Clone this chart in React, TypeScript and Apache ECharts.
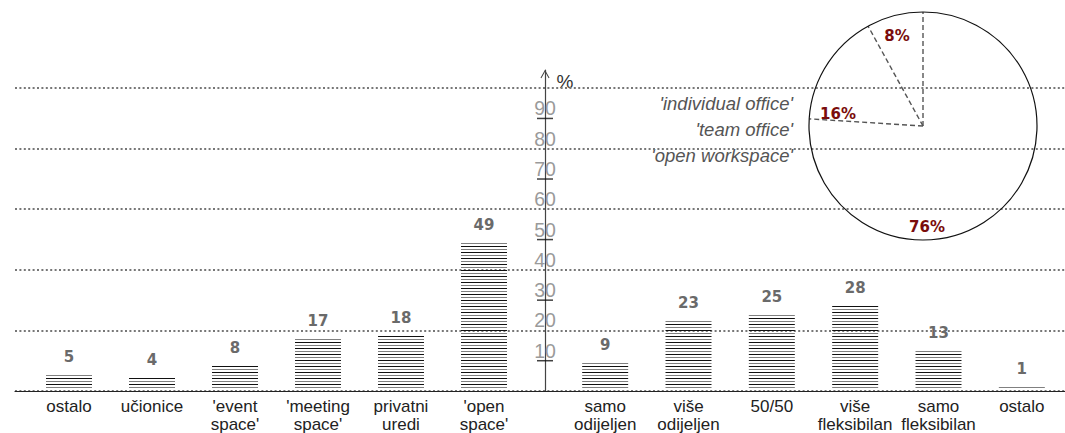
import React, { useEffect, useRef } from 'react';
import * as echarts from 'echarts';

// ---- data ----
const leftCategories = ['ostalo', 'učionice', "'event\nspace'", "'meeting\nspace'", 'privatni\nuredi', "'open\nspace'"];
const leftValues = [5, 4, 8, 17, 18, 49];
const rightCategories = ['samo\nodijeljen', 'više\nodijeljen', '50/50', 'više\nfleksibilan', 'samo\nfleksibilan', 'ostalo'];
const rightValues = [9, 23, 25, 28, 13, 1];
const yTickLabels = [10, 20, 30, 40, 50, 60, 70, 80, 90];
const yTickMarks = [10, 30, 50, 70, 90];
const pieNames = ["'individual office'", "'team office'", "'open workspace'"];
const pieShares = [8, 16, 76];

// ---- layout / style constants ----
const PIE_CENTER = [923, 126];
const PIE_RADIUS = 114;
const PIE_LABEL_OFFSETS = [[-26, -90], [-85, -12], [4, 101]];
const NAME_RIGHT_X = 793;
const NAME_Y = [103, 129, 155];
const SANS = "'Liberation Sans', Arial, sans-serif";
const WIDE_BOLD = "'DejaVu Sans', Verdana, sans-serif";

function makeStripePattern() {
  const c = document.createElement('canvas');
  c.width = 4;
  c.height = 6;
  const ctx = c.getContext('2d')!;
  ctx.fillStyle = '#111111';
  ctx.fillRect(0, 0, 4, 1);
  ctx.fillStyle = '#808080';
  ctx.fillRect(0, 3, 4, 1);
  return { image: c, repeat: 'repeat', imageWidth: 4, imageHeight: 6 } as any;
}

export default function App() {
  const ref = useRef<HTMLDivElement>(null);

  useEffect(() => {
    if (!ref.current) return;
    const chart = echarts.init(ref.current, undefined, { renderer: 'svg' });
    const stripes = makeStripePattern();

    // slice boundaries (cumulative shares) for the dashed radial lines
    const boundaries: number[] = [];
    pieShares.reduce((acc, v) => {
      boundaries.push(acc);
      return acc + v;
    }, 0);
    const total = pieShares.reduce((a, b) => a + b, 0);

    const barLabel = {
      show: true,
      position: 'top',
      distance: 9,
      fontFamily: WIDE_BOLD,
      fontWeight: 'bold',
      fontSize: 15,
      color: '#6a6a6a',
    };
    const catLabel = {
      interval: 0,
      margin: 9,
      fontFamily: SANS,
      fontSize: 17,
      lineHeight: 18,
      color: '#222',
    };
    const hiddenAxisParts = {
      axisLine: { show: false },
      axisTick: { show: false },
      splitLine: { show: false },
    };

    const option: any = {
      animation: false,
      grid: [
        { left: 15, right: 0, top: 88, bottom: 42 },
        { left: 27.5, width: 498, top: 88, bottom: 42 },
        { left: 563.5, width: 500, top: 88, bottom: 42 },
        { left: 545, width: 10, top: 70, bottom: 42 },
      ],
      polar: { center: PIE_CENTER, radius: PIE_RADIUS },
      angleAxis: {
        type: 'value', min: 0, max: total, startAngle: 90, clockwise: false, show: false,
      },
      radiusAxis: { type: 'value', min: 0, max: 1, show: false },
      xAxis: [
        {
          gridIndex: 0, type: 'value', min: 0, max: 1,
          axisLine: { show: true, onZero: false, lineStyle: { color: '#222', width: 1.2 } },
          axisTick: { show: false }, axisLabel: { show: false }, splitLine: { show: false },
        },
        { gridIndex: 1, type: 'category', data: leftCategories, ...hiddenAxisParts, axisLabel: catLabel },
        { gridIndex: 2, type: 'category', data: rightCategories, ...hiddenAxisParts, axisLabel: catLabel },
        { gridIndex: 3, type: 'value', min: 0, max: 1, show: false },
      ],
      yAxis: [
        {
          gridIndex: 0, type: 'value', min: 0, max: 100, interval: 20,
          axisLine: { show: false }, axisTick: { show: false }, axisLabel: { show: false },
          splitLine: { show: true, lineStyle: { color: '#777', width: 2, type: [2, 2.4] } },
        },
        { gridIndex: 1, type: 'value', min: 0, max: 100, show: false },
        { gridIndex: 2, type: 'value', min: 0, max: 100, show: false },
        {
          gridIndex: 3, type: 'value', min: 0, max: 106, interval: 10, position: 'left',
          axisLine: {
            show: true, onZero: false,
            lineStyle: { color: '#444', width: 1.2 },
            symbol: ['none', 'path://M0,9 L5,0 L10,9 L9,9.6 L5,2.2 L1,9.6 Z'],
            symbolSize: [9, 9],
            symbolOffset: [0, -4],
          },
          axisTick: { show: false },
          splitLine: { show: false },
          axisLabel: {
            show: true,
            margin: 0,
            align: 'center',
            verticalAlign: 'bottom',
            fontFamily: SANS,
            fontSize: 19.5,
            color: '#9a9a9a',
            formatter: (v: number) => (yTickLabels.includes(v) ? String(v) : ''),
          },
        },
      ],
      series: [
        {
          type: 'bar', xAxisIndex: 1, yAxisIndex: 1, data: leftValues, barWidth: 46,
          itemStyle: { color: stripes }, label: barLabel,
        },
        {
          type: 'bar', xAxisIndex: 2, yAxisIndex: 2, data: rightValues, barWidth: 46,
          itemStyle: { color: stripes }, label: barLabel,
        },
        {
          type: 'scatter', xAxisIndex: 3, yAxisIndex: 3,
          data: yTickMarks.map((v) => [0, v]),
          symbol: 'rect', symbolSize: [16, 1.5],
          itemStyle: { color: '#111' }, silent: true,
        },
        {
          type: 'custom',
          coordinateSystem: 'polar',
          silent: true,
          data: boundaries.map((b) => [1, b]),
          renderItem: (_params: any, api: any) => {
            const a = api.value(1);
            const c = api.coord([0, a]);
            const e = api.coord([1, a]);
            return {
              type: 'line',
              shape: { x1: c[0], y1: c[1], x2: e[0], y2: e[1] },
              style: { stroke: '#555', lineWidth: 1.4, lineDash: [5, 3], fill: null },
            };
          },
        },
        {
          type: 'pie',
          center: PIE_CENTER,
          radius: PIE_RADIUS,
          startAngle: 90,
          clockwise: false,
          silent: true,
          data: pieShares.map((v, i) => ({ value: v, name: pieNames[i] })),
          itemStyle: { color: 'rgba(0,0,0,0)', borderWidth: 0 },
          label: {
            show: true,
            position: 'inside',
            formatter: '{c}%',
            fontFamily: WIDE_BOLD,
            fontWeight: 'bold',
            fontSize: 15,
            color: '#7a0c0c',
          },
          labelLine: { show: false },
          labelLayout: (p: any) => {
            const o = PIE_LABEL_OFFSETS[p.dataIndex];
            return { x: PIE_CENTER[0] + o[0], y: PIE_CENTER[1] + o[1], align: 'center', verticalAlign: 'middle' };
          },
          emphasis: { disabled: true },
        },
        {
          type: 'pie',
          center: PIE_CENTER,
          radius: PIE_RADIUS,
          startAngle: 90,
          silent: true,
          z: 3,
          data: [{ value: total, name: 'total' }],
          itemStyle: { color: 'rgba(0,0,0,0)', borderColor: '#111', borderWidth: 1.2 },
          label: { show: false },
          labelLine: { show: false },
          emphasis: { disabled: true },
        },
      ],
      graphic: [
        ...pieNames.map((name, i) => ({
          type: 'text',
          x: NAME_RIGHT_X,
          y: NAME_Y[i],
          silent: true,
          style: {
            text: name,
            align: 'right',
            verticalAlign: 'middle',
            fontFamily: SANS,
            fontStyle: 'italic',
            fontSize: 18.5,
            fill: '#555',
          },
        })),
        {
          type: 'text',
          x: 565,
          y: 81,
          silent: true,
          style: {
            text: '%',
            align: 'center',
            verticalAlign: 'middle',
            fontFamily: SANS,
            fontSize: 19,
            fill: '#333',
          },
        },
      ],
    };

    chart.setOption(option);
    return () => chart.dispose();
  }, []);

  return (
    <div
      ref={ref}
      style={{ position: 'fixed', left: 0, top: 0, width: 1065, height: 433, background: '#fff' }}
    />
  );
}
